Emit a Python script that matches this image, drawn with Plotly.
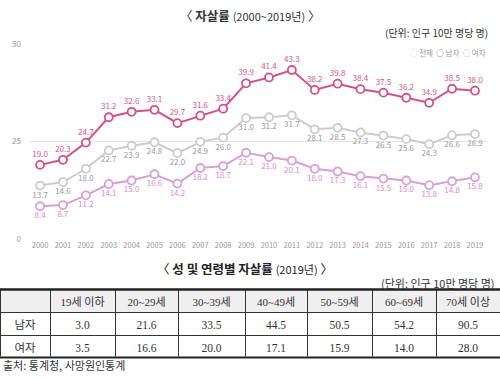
import plotly.graph_objects as go

years = list(range(2000, 2020))
total = [13.7, 14.6, 18.0, 22.7, 23.9, 24.8, 22.0, 24.9, 26.0, 31.0, 31.2, 31.7, 28.1, 28.5, 27.3, 26.5, 25.6, 24.3, 26.6, 26.9]
male = [19.0, 20.3, 24.7, 31.2, 32.6, 33.1, 29.7, 31.6, 33.4, 39.9, 41.4, 43.3, 38.2, 39.8, 38.4, 37.5, 36.2, 34.9, 38.5, 38.0]
female = [8.4, 8.7, 11.2, 14.1, 15.0, 16.6, 14.2, 18.2, 18.7, 22.1, 21.0, 20.1, 18.0, 17.3, 16.1, 15.5, 15.0, 13.8, 14.8, 15.8]

age_groups = ["19세 이하", "20~29세", "30~39세", "40~49세", "50~59세", "60~69세", "70세 이상"]
table_male = ["3.0", "21.6", "33.5", "44.5", "50.5", "54.2", "90.5"]
table_female = ["3.5", "16.6", "20.0", "17.1", "15.9", "14.0", "28.0"]
row_labels = ["남자", "여자"]

C_TOTAL = "#cccccc"
C_MALE = "#d4508a"
C_FEMALE = "#d9a0d4"
T_TOTAL = "#999999"
T_MALE = "#d4558a"
T_FEMALE = "#e28ac6"

SANS = "Noto Sans CJK KR, Noto Sans, sans-serif"
SERIF = "Liberation Serif, Noto Sans CJK KR, serif"

W, H = 500, 379
def py(y):
    return 1 - y / H

fig = go.Figure()

def add_series(vals, lc, tc, pos):
    fig.add_trace(go.Scatter(
        x=years, y=vals, mode="lines+markers+text",
        line=dict(color=lc, width=2),
        marker=dict(size=8, color="white", line=dict(color=lc, width=1.8)),
        text=[f"{v:.1f}" for v in vals], textposition=pos,
        textfont=dict(size=8, color=tc, family=SANS),
        showlegend=False, cliponaxis=False, hoverinfo="skip"))

add_series(total, C_TOTAL, T_TOTAL, "bottom center")
add_series(female, C_FEMALE, T_FEMALE, "bottom center")
add_series(male, C_MALE, T_MALE, "top center")

fig.add_trace(go.Table(
    domain=dict(x=[0, 1], y=[py(362), py(292)]),
    columnwidth=[50, 65, 63, 67, 62, 65, 64, 64],
    header=dict(values=[""] + age_groups, height=23,
                fill_color="#efefef", align="center",
                line=dict(color="#333333", width=1),
                font=dict(size=11, color="#333333", family=SERIF)),
    cells=dict(values=[row_labels] + [[m, f] for m, f in zip(table_male, table_female)],
               height=23, fill_color="white", align="center",
               line=dict(color="#333333", width=1),
               font=dict(size=11.5, color="#333333", family=SERIF))))

fig.update_layout(
    width=W, height=H, margin=dict(l=0, r=0, t=0, b=0),
    paper_bgcolor="white", plot_bgcolor="white",
    font=dict(family=SANS),
    xaxis=dict(domain=[30 / W, 488 / W], range=[1999.56, 2019.57],
               tickmode="array", tickvals=years, ticktext=[str(y) for y in years],
               tickfont=dict(size=7.5, color="#999999"), showgrid=False,
               zeroline=False, showline=False, fixedrange=True),
    yaxis=dict(domain=[py(240), py(39)], range=[0, 50],
               tickvals=[0, 25, 50], tickfont=dict(size=8, color="#999999"),
               gridcolor="#e4e4e4", gridwidth=1, zeroline=False, showline=False,
               ticklabelstandoff=8, fixedrange=True),
)

ann = [
    dict(x=0.5, y=py(10), text="〈 <b>자살률</b> <span style='font-size:11px'>(2000~2019년)</span> 〉",
         font=dict(size=12.5, color="#333333")),
    dict(x=490 / W, y=py(27), xanchor="right", text="(단위: 인구 10만 명당 명)",
         font=dict(size=10, color="#333333")),
    dict(x=488 / W, y=py(48), xanchor="right",
         text=f"<span style='color:{C_TOTAL}'>○</span> 전체  <span style='color:{C_MALE}'><b>○</b></span> 남자  <span style='color:{C_FEMALE}'>○</span> 여자",
         font=dict(size=7.5, color="#999999")),
    dict(x=245 / W, y=py(270), text="〈 <b>성 및 연령별 자살률</b> <span style='font-size:11px'>(2019년)</span> 〉",
         font=dict(size=12.5, color="#222222")),
    dict(x=497 / W, y=py(285), xanchor="right", text="(단위: 인구 10만 명당 명)",
         font=dict(size=11, color="#333333")),
    dict(x=1 / W, y=py(370), xanchor="left", text="출처: 통계청, 사망원인통계",
         font=dict(size=11, color="#333333")),
]
for a in ann:
    a.setdefault("xanchor", "center")
    fig.add_annotation(xref="paper", yref="paper", showarrow=False, yanchor="middle", **a)

fig.add_shape(type="line", xref="paper", yref="paper", x0=0, x1=1, y0=py(292), y1=py(292),
              line=dict(color="#222222", width=2.5), layer="above")
fig.add_shape(type="line", xref="paper", yref="paper", x0=0, x1=1, y0=py(362), y1=py(362),
              line=dict(color="#222222", width=2), layer="above")

fig.write_html("out.html", config={"displayModeBar": False},
               post_script="document.body.style.margin='0';document.body.style.overflow='hidden';")
